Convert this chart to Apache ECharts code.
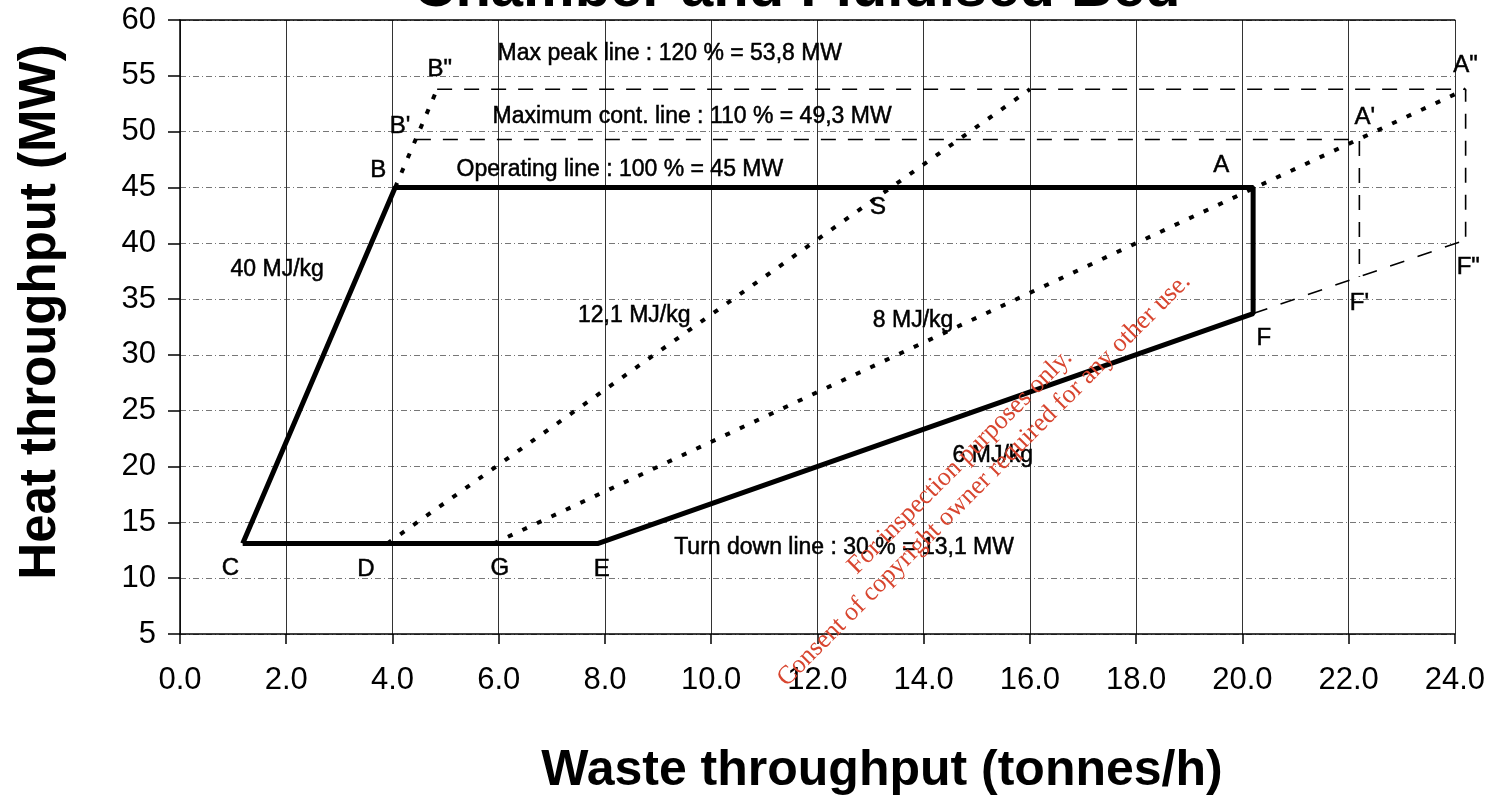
<!DOCTYPE html>
<html>
<head>
<meta charset="utf-8">
<script src="https://cdn.jsdelivr.net/npm/echarts@6/dist/echarts.min.js"></script>
<style>html,body{margin:0;padding:0;background:#fff;}#c{width:1488px;height:802px;}</style>
</head>
<body>
<div id="c"></div>
<script>
// ---- data (x = waste throughput t/h, y = heat throughput MW) ----
const xTicks = [0, 2, 4, 6, 8, 10, 12, 14, 16, 18, 20, 22, 24];
const yTicks = [5, 10, 15, 20, 25, 30, 35, 40, 45, 50, 55, 60];
// firing diagram envelope C-B-A-F-E-C
const envelope = [[1.18, 13.1], [4.05, 45], [20.2, 45], [20.2, 33.7], [7.86, 13.1], [1.18, 13.1]];
// dotted calorific value lines
const line40ext = [[4.05, 45], [4.84, 53.8]];
const line12 = [[3.9, 13.1], [16.0, 53.8]];
const line8 = [[5.9, 13.1], [24.2, 53.8]];
// dashed overload lines
const line110 = [[4.44, 49.3], [22.2, 49.3], [22.2, 37.0]];
const line120 = [[4.84, 53.8], [24.2, 53.8], [24.2, 40.3]];
const line6ext = [[20.2, 33.7], [24.2, 40.3]];
// annotation texts with their anchor (data units)
const textNotes = [
  ['Max peak line : 120 % = 53,8 MW', 9.22, 57.0],
  ['Maximum cont. line : 110 % = 49,3 MW', 9.64, 51.3],
  ['Operating line : 100 % = 45 MW', 8.28, 46.6],
  ['Turn down line : 30 % = 13,1 MW', 12.5, 12.7],
  ['40 MJ/kg', 1.83, 37.6],
  ['12,1 MJ/kg', 8.55, 33.5],
  ['8 MJ/kg', 13.8, 33.1],
  ['6 MJ/kg', 15.3, 20.95]
];
const pointNotes = [
  ['S', 13.14, 43.2],
  ['B"', 4.89, 55.6],
  ["B'", 4.14, 50.5],
  ['B', 3.73, 46.5],
  ['A', 19.6, 47.0],
  ["A'", 22.3, 51.3],
  ['A"', 24.2, 55.9],
  ['F', 20.4, 31.5],
  ["F'", 22.2, 34.65],
  ['F"', 24.25, 37.8],
  ['C', 0.95, 10.85],
  ['D', 3.5, 10.75],
  ['G', 6.02, 10.85],
  ['E', 7.94, 10.75]
];
const drawXMax = 24.2; // drawing extent reaches slightly past the last tick
const titleText = 'Chamber and Fluidised Bed';
const xName = 'Waste throughput (tonnes/h)';
const yName = 'Heat throughput (MW)';
const watermark1 = 'For inspection purposes only.';
const watermark2 = 'Consent of copyright owner required for any other use.';

const FONT = '"Liberation Sans", Arial, sans-serif';
const chart = echarts.init(document.getElementById('c'), null, {renderer: 'canvas'});

const xMin = xTicks[0], xMax = xTicks[xTicks.length - 1];
const yMin = yTicks[0], yMax = yTicks[yTicks.length - 1];
const gLeft = 180, gRight = 33, gTop = 20, gBottom = 168;
const plotW = 1488 - gLeft - gRight;
const drawRight = 1488 - gLeft - plotW * (drawXMax - xMin) / (xMax - xMin);

function lineSeries(data, width, type) {
  return {
    type: 'line', data: data, symbol: 'none', silent: true, z: 3, clip: false,
    xAxisIndex: 2, yAxisIndex: 1,
    lineStyle: {color: '#000', width: width, type: type, cap: 'butt'},
    animation: false
  };
}
function noteSeries(notes, size) {
  return {
    type: 'scatter', silent: true, z: 5, symbolSize: 1, clip: false,
    xAxisIndex: 2, yAxisIndex: 1,
    itemStyle: {color: '#fff', opacity: 1},
    data: notes.map(a => ({name: a[0], value: [a[1], a[2]]})),
    label: {show: true, position: 'inside', formatter: '{b}', fontFamily: FONT, fontSize: size,
      color: '#000', opacity: 1, textBorderColor: '#000', textBorderWidth: 0.5}
  };
}

const option = {
  backgroundColor: '#fff',
  animation: false,
  grid: [
    {left: gLeft, right: gRight, top: gTop, bottom: gBottom},
    {left: gLeft, right: drawRight, top: gTop, bottom: gBottom}
  ],
  xAxis: [{
    gridIndex: 0, type: 'value', min: xMin, max: xMax, interval: 2,
    axisLine: {show: true, lineStyle: {color: '#000', width: 1.5}},
    axisTick: {show: true, inside: false, length: 10, lineStyle: {color: '#000', width: 1.5}},
    axisLabel: {formatter: v => v.toFixed(1), fontFamily: FONT, fontSize: 31, color: '#000', margin: 31},
    splitLine: {show: true, lineStyle: {color: '#333', width: 1, type: 'solid'}}
  }, {
    gridIndex: 0, type: 'value', position: 'top', min: xMin, max: xMax, interval: 2,
    axisLine: {show: true, onZero: false, lineStyle: {color: '#000', width: 1.5}},
    axisTick: {show: false}, axisLabel: {show: false}, splitLine: {show: false}
  }, {
    gridIndex: 1, type: 'value', min: xMin, max: drawXMax, show: false
  }],
  yAxis: [{
    gridIndex: 0, type: 'value', min: yMin, max: yMax, interval: 5,
    axisLine: {show: true, lineStyle: {color: '#000', width: 1.5}},
    axisTick: {show: true, inside: false, length: 12, lineStyle: {color: '#000', width: 1.5}},
    axisLabel: {fontFamily: FONT, fontSize: 31, color: '#000', margin: 24},
    splitLine: {show: true, lineStyle: {color: '#777', width: 1, type: [6, 3, 1, 3]}}
  }, {
    gridIndex: 1, type: 'value', min: yMin, max: yMax, show: false
  }],
  graphic: [
    {type: 'text', x: 797, y: -10, style: {text: titleText, font: 'bold 58px ' + FONT, fill: '#000', align: 'center', verticalAlign: 'middle'}},
    {type: 'text', x: 882, y: 771, style: {text: xName, font: 'bold 50px ' + FONT, fill: '#000', align: 'center', verticalAlign: 'middle'}},
    {type: 'text', x: 41, y: 312, rotation: Math.PI / 2, style: {text: yName, font: 'bold 51px ' + FONT, fill: '#000', align: 'center', verticalAlign: 'middle'}},
    {type: 'text', x: 960, y: 462, rotation: Math.PI / 4, z: 100, style: {text: watermark1, font: '26px "Liberation Serif", "Times New Roman", serif', fill: '#d8452f', align: 'center', verticalAlign: 'middle'}},
    {type: 'text', x: 984, y: 480, rotation: Math.PI / 4, z: 100, style: {text: watermark2, font: '26px "Liberation Serif", "Times New Roman", serif', fill: '#d8452f', align: 'center', verticalAlign: 'middle'}}
  ],
  series: [
    lineSeries(envelope, 5, 'solid'),
    lineSeries(line40ext, 4, [5, 11]),
    lineSeries(line12, 4, [5, 11]),
    lineSeries(line8, 4, [5, 11]),
    lineSeries(line110, 1.6, [15, 12]),
    lineSeries(line120, 1.6, [15, 12]),
    lineSeries(line6ext, 1.6, [15, 14]),
    noteSeries(textNotes, 23),
    noteSeries(pointNotes, 24)
  ]
};
chart.setOption(option);
</script>
</body>
</html>
